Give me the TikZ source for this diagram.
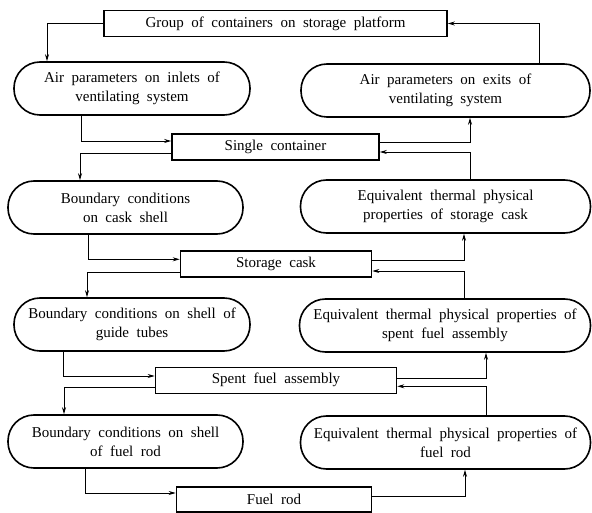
\documentclass[tikz,border=0pt]{standalone}
\usepackage{fontspec}
\setmainfont{Liberation Serif}
\usetikzlibrary{arrows.meta}
\newcommand{\myfnt}{\fontsize{15}{19}\selectfont\spaceskip=0.5em\relax}
\begin{document}
\begin{tikzpicture}[x=1pt,y=-1pt,
  every node/.style={font=\myfnt, inner sep=0pt, align=center},
  rect/.style={draw, line width=1.6pt, minimum height=26pt},
  oval/.style={draw, line width=1.6pt, rounded corners=26pt, minimum height=53pt},
  arr/.style={draw, line width=0.8pt, -{Stealth[length=7pt,width=4pt]}},
  ln/.style={draw, line width=0.8pt}]
\useasboundingbox (0,0) rectangle (592,513);

\node[rect, minimum width=343pt] (top) at (275.5,23.5) {Group of containers on storage platform};
\node[oval, minimum width=236pt] (L1) at (132,88.5) {Air parameters on inlets of\\ventilating system};
\node[oval, minimum width=289pt] (R1) at (445.5,90.5) {Air parameters on exits of\\ventilating system};
\node[rect, minimum width=207pt] (SC) at (275.5,147) {Single container};
\node[oval, minimum width=235pt] (L2) at (125.5,207.5) {Boundary conditions\\on cask shell};
\node[oval, minimum width=290pt] (R2) at (445.5,206.5) {Equivalent thermal physical\\properties of storage cask};
\node[rect, minimum width=191pt] (SK) at (276,264) {Storage cask};
\node[oval, minimum width=236pt] (L3) at (132,324.5) {Boundary conditions on shell of\\guide tubes};
\node[oval, minimum width=291pt] (R3) at (445,325.5) {Equivalent thermal physical properties of\\spent fuel assembly};
\node[rect, minimum width=241pt] (SF) at (276,380.3) {Spent fuel assembly};
\node[oval, minimum width=235pt] (L4) at (125.5,441.5) {Boundary conditions on shell\\of fuel rod};
\node[oval, minimum width=290pt] (R4) at (445.5,442.5) {Equivalent thermal physical properties of\\fuel rod};
\node[rect, minimum width=195pt, minimum height=25pt] (FR) at (274,499.5) {Fuel rod};

% top level
\draw[arr] (top.west) -| ([xshift=-85pt]L1.north);
\draw[arr] ([xshift=93.5pt]R1.north) |- (top.east);
% single container
\draw[arr] ([xshift=-51pt]L1.south) |- ([yshift=6pt]SC.west);
\draw[arr] ([yshift=-6pt]SC.west) -| ([xshift=-45.5pt]L2.north);
\draw[arr] ([yshift=5pt]SC.east) -| ([xshift=24.5pt]R1.south);
\draw[arr] ([xshift=24.5pt]R2.north) |- ([yshift=-5pt]SC.east);
% storage cask
\draw[arr] ([xshift=-37.5pt]L2.south) |- ([yshift=4.7pt]SK.west);
\draw[arr] ([yshift=-8.7pt]SK.west) -| ([xshift=-45pt]L3.north);
\draw[arr] ([yshift=3.3pt]SK.east) -| ([xshift=18.5pt]R2.south);
\draw[arr] ([xshift=19pt]R3.north) |- ([yshift=-7pt]SK.east);
% spent fuel assembly
\draw[arr] ([xshift=-69pt]L3.south) |- ([yshift=4.3pt]SF.west);
\draw[arr] ([yshift=-7pt]SF.west) -| ([xshift=-61.5pt]L4.north);
\draw[arr] ([yshift=2pt]SF.east) -| ([xshift=41pt]R3.south);
\draw[arr] ([xshift=40.5pt]R4.north) |- ([yshift=-6pt]SF.east);
% fuel rod
\draw[arr] ([xshift=-40.5pt]L4.south) |- ([yshift=6.5pt]FR.west);
\draw[arr] ([yshift=3.5pt]FR.east) -| ([xshift=19.5pt]R4.south);
\end{tikzpicture}
\end{document}
